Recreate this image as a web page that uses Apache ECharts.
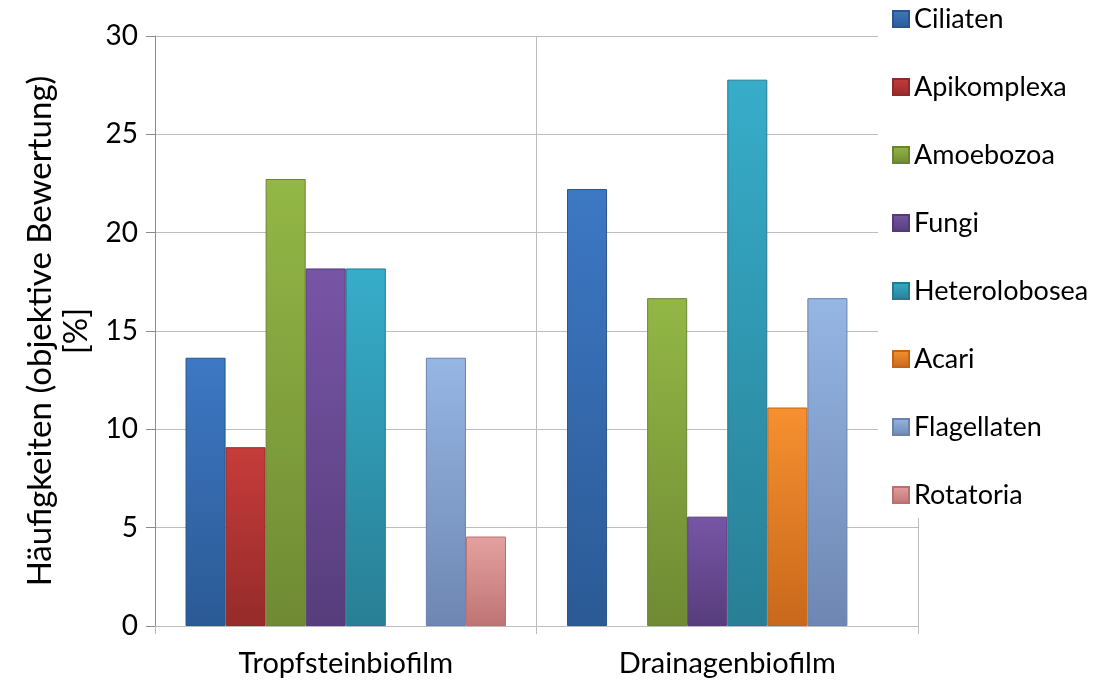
<!DOCTYPE html>
<html>
<head>
<meta charset="utf-8">
<script src="https://cdn.jsdelivr.net/npm/echarts@6/dist/echarts.min.js"></script>
<style>
  html, body { margin: 0; padding: 0; background: #ffffff; }
  #chart { width: 1104px; height: 680px; }
</style>
</head>
<body>
<div id="chart"></div>
<script>
// Habitats (x categories)
const categories = ['Tropfsteinbiofilm', 'Drainagenbiofilm'];

// Organism groups, one series each
const groups = ['Ciliaten', 'Apikomplexa', 'Amoebozoa', 'Fungi', 'Heterolobosea', 'Acari', 'Flagellaten', 'Rotatoria'];

// Relative abundance [%] per habitat, same order as categories
const ciliaten      = [13.64, 22.22];
const apikomplexa   = [9.09, 0];
const amoebozoa     = [22.73, 16.67];
const fungi         = [18.18, 5.56];
const heterolobosea = [18.18, 27.78];
const acari         = [0, 11.11];
const flagellaten   = [13.64, 16.67];
const rotatoria     = [4.55, 0];

const values = [ciliaten, apikomplexa, amoebozoa, fungi, heterolobosea, acari, flagellaten, rotatoria];

// Bar fills: [top, bottom, edge]
const palette = [
  ['#3d78c4', '#2b5a95', '#2a558c'],
  ['#c63c3b', '#952b2a', '#8e2a29'],
  ['#93b746', '#6f8a33', '#6a8431'],
  ['#7755a6', '#573d7c', '#543b78'],
  ['#37adca', '#287f95', '#267a8f'],
  ['#f69030', '#c9681b', '#c0641a'],
  ['#96b6e4', '#6e87b2', '#6a82ac'],
  ['#e4a0a0', '#bf7474', '#b87070']
];

const font = 'Lato, "Open Sans", sans-serif';

// A zero share leaves its slot empty instead of drawing a hairline bar
const series = groups.map((name, i) => ({
  name: name,
  type: 'bar',
  barGap: '0%',
  barCategoryGap: '16%',
  data: values[i].map(v => (v === 0 ? null : v)),
  itemStyle: {
    color: {
      type: 'linear', x: 0, y: 0, x2: 0, y2: 1,
      colorStops: [
        { offset: 0, color: palette[i][0] },
        { offset: 1, color: palette[i][1] }
      ]
    },
    borderColor: palette[i][2],
    borderWidth: 1
  }
}));

const chart = echarts.init(document.getElementById('chart'), null, { renderer: 'canvas' });

chart.setOption({
  animation: false,
  backgroundColor: '#ffffff',
  textStyle: { fontFamily: font },
  color: palette.map(p => p[0]),
  grid: { left: 155, right: 186, top: 36, bottom: 54, containLabel: false },
  legend: {
    orient: 'vertical',
    left: 878,
    top: 0,
    padding: [4, 10, 8, 14],
    backgroundColor: '#ffffff',
    itemWidth: 16,
    itemHeight: 16,
    itemGap: 38,
    icon: 'rect',
    textStyle: { fontFamily: font, fontSize: 27, color: '#000000', lineHeight: 30 },
    data: groups
  },
  xAxis: {
    type: 'category',
    data: categories,
    boundaryGap: true,
    axisLine: { show: true, lineStyle: { color: '#bdbdbd', width: 1 } },
    axisTick: { show: true, length: 8, lineStyle: { color: '#bdbdbd' } },
    splitLine: { show: true, lineStyle: { color: '#bdbdbd', width: 1 } },
    axisLabel: { fontFamily: font, fontSize: 29, color: '#000000', margin: 23 }
  },
  yAxis: {
    type: 'value',
    min: 0,
    max: 30,
    interval: 5,
    name: 'Häufigkeiten (objektive Bewertung)\n[%]',
    nameLocation: 'middle',
    nameGap: 58,
    nameRotate: 90,
    nameTextStyle: { fontFamily: font, fontSize: 33, color: '#000000', lineHeight: 36 },
    axisLine: { show: true, lineStyle: { color: '#8c8c8c', width: 1 } },
    axisTick: { show: true, length: 9, lineStyle: { color: '#8c8c8c' } },
    splitLine: { show: true, lineStyle: { color: '#bdbdbd', width: 1 } },
    axisLabel: { fontFamily: font, fontSize: 28, color: '#000000', margin: 17 }
  },
  series: series
});
</script>
</body>
</html>
